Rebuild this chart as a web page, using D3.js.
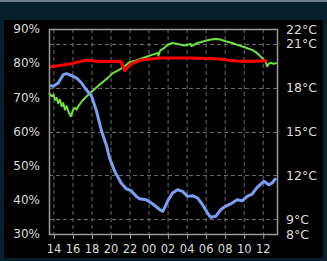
<!DOCTYPE html>
<html>
<head>
<meta charset="utf-8">
<script src="https://cdn.jsdelivr.net/npm/d3@7"></script>
<style>
  html, body { margin: 0; padding: 0; background: #06202e; }
  svg { display: block; font-family: "DejaVu Sans", sans-serif; }
</style>
</head>
<body>
<div id="app"></div>
<script>
// humidity (left axis, %)
const humidityTimes = ["13:32","13:49","13:59","14:10","14:20","14:30","14:41","14:52","15:02","15:13","15:23","15:38","15:50","16:05","16:16","16:26","16:37","17:08","17:40","18:22","19:04","19:43","20:15","20:57","21:29","22:00","22:42","23:24","00:07","00:59","01:02","01:13","01:38","02:00","02:31","03:03","03:44","04:26","04:30","05:09","05:50","06:32","07:04","07:35","08:05","08:47","09:29","10:11","10:32","10:53","11:14","11:35","11:56","12:17","12:28","12:38","12:49","13:10","13:29"];
const humidityValues = [71.3,70.3,70.8,69.3,69.8,68.3,69.3,67.4,68.3,66.4,67.4,65.4,64.5,66.4,66.9,66.4,67.4,69.3,70.8,72.5,74.2,75.7,77.1,78.1,79.1,80.3,80.8,81.5,82.2,83.0,82.2,83.7,84.4,85.4,85.9,85.6,85.2,85.6,85.0,85.9,86.4,86.9,87.1,86.9,86.4,85.9,85.2,84.6,84.2,83.9,83.3,82.5,81.5,80.6,79.1,79.8,80.1,79.8,80.1];

// indoor temperature (right axis, °C)
const indoorTimes = ["13:32","14:41","15:56","17:19","18:22","19:25","21:05","21:29","22:02","23:05","00:08","01:11","04:20","06:26","07:35","08:20","09:35","10:51","12:07","12:26"];
const indoorValues = [19.40,19.51,19.64,19.86,19.81,19.78,19.79,19.15,19.56,19.86,19.95,20.02,20.02,19.98,19.95,19.86,19.79,19.79,19.83,19.81];

// outdoor temperature (right axis, °C)
const outdoorTimes = ["13:32","13:59","14:30","15:02","15:23","15:55","16:26","16:58","17:19","18:01","18:32","19:04","19:33","19:54","20:26","21:07","21:39","22:10","22:42","23:03","23:45","00:27","01:10","01:30","02:00","02:31","03:03","03:34","04:06","04:37","05:09","05:40","06:12","06:32","07:04","07:35","08:05","08:37","09:19","09:50","10:22","10:53","11:25","12:07","12:38","12:59","13:24"];
const outdoorValues = [18.15,18.09,18.31,18.88,18.95,18.81,18.65,18.31,17.97,17.40,16.38,15.01,14.10,13.19,12.28,11.48,11.09,10.96,10.57,10.41,10.34,10.05,9.66,9.55,10.23,10.80,11.02,10.91,10.57,10.61,10.46,10.00,9.43,9.14,9.21,9.66,9.89,10.05,10.34,10.27,10.57,10.73,11.19,11.60,11.36,11.48,11.82];

const percentTicks = [90, 80, 70, 60, 50, 40, 30];
const tempTicks = [22, 21, 18, 15, 12, 9, 8];
const tempGrid = [21, 18, 15, 12, 9];

let width = 327,
    height = 261;

const plot = {left: 49, right: 277, top: 29, bottom: 234};

// "HH:MM" strings in order, day rolls over when the clock goes backwards
const toDates = (times) => {
    let day = 1, prev = -1;
    return times.map(s => {
        const [h, m] = s.split(":").map(Number);
        if (h * 60 + m < prev) day++;
        prev = h * 60 + m;
        return new Date(2024, 0, day, h, m);
    });
};

const svg = d3.select("#app").append("svg")
    .attr("width", width)
    .attr("height", height);

// frame: thin top strip, navy border, black panel
svg.append("rect").attr("width", width).attr("height", height).attr("fill", "#06202e");
svg.append("rect").attr("width", width).attr("height", 2).attr("fill", "#6f7f8c");
svg.append("rect").attr("x", 4).attr("y", 20).attr("width", 319).attr("height", 238).attr("fill", "#000");

const x = d3.scaleTime()
    .domain([new Date(2024, 0, 1, 13, 32), new Date(2024, 0, 2, 13, 30)])
    .range([plot.left, plot.right]);

const yPct = d3.scaleLinear().domain([30, 90]).range([plot.bottom, plot.top]);
const yTemp = d3.scaleLinear().domain([8, 22]).range([plot.bottom, plot.top]);

const hourTicks = x.ticks(d3.timeHour.every(2));

// dashed grid
const grid = svg.append("g")
    .attr("stroke", "#6a6a6a")
    .attr("stroke-dasharray", "4,3");
grid.selectAll(".vg").data(hourTicks).enter().append("line")
    .attr("x1", d => x(d) + 0.5).attr("x2", d => x(d) + 0.5)
    .attr("y1", plot.top).attr("y2", plot.bottom);
grid.selectAll(".hg").data(tempGrid).enter().append("line")
    .attr("x1", plot.left).attr("x2", plot.right)
    .attr("y1", d => Math.round(yTemp(d)) + 0.5).attr("y2", d => Math.round(yTemp(d)) + 0.5);

// x axis
const xAxis = svg.append("g")
    .attr("transform", `translate(0,${plot.bottom})`)
    .call(d3.axisBottom(x).ticks(d3.timeHour.every(2)).tickFormat(d3.timeFormat("%H")).tickSize(5).tickPadding(6));
xAxis.select(".domain").remove();
xAxis.selectAll("line").attr("stroke", "#9a9a9a").attr("transform", "translate(0.5,0)");
xAxis.selectAll("text")
    .attr("fill", "#dcdcdc")
    .attr("font-size", "11.5px")
    .attr("font-family", "DejaVu Sans");

// left axis labels
svg.append("g").selectAll("text").data(percentTicks).enter().append("text")
    .attr("x", 40)
    .attr("y", d => yPct(d))
    .attr("dy", "0.36em")
    .attr("text-anchor", "end")
    .attr("fill", "#dcdcdc")
    .attr("font-size", "12px")
    .text(d => d + "%");

// right axis labels
svg.append("g").selectAll("text").data(tempTicks).enter().append("text")
    .attr("x", 286)
    .attr("y", d => yTemp(d))
    .attr("dy", "0.36em")
    .attr("fill", "#dcdcdc")
    .attr("font-size", "12.5px")
    .text(d => d + "°C");

// lines
const drawLine = (times, values, yScale, color, w) => {
    const dates = toDates(times);
    const line = d3.line()
        .x((d, i) => x(dates[i]))
        .y(d => yScale(d));
    svg.append("path")
        .attr("d", line(values))
        .attr("fill", "none")
        .attr("stroke", color)
        .attr("stroke-width", w)
        .attr("stroke-linejoin", "round");
};

drawLine(humidityTimes, humidityValues, yPct, "#6ee23c", 2);
drawLine(outdoorTimes, outdoorValues, yTemp, "#7c9ef2", 3);
drawLine(indoorTimes, indoorValues, yTemp, "#ff0000", 3);

// plot frame
svg.append("rect")
    .attr("x", plot.left + 0.5).attr("y", plot.top + 0.5)
    .attr("width", plot.right - plot.left).attr("height", plot.bottom - plot.top)
    .attr("fill", "none")
    .attr("stroke", "#9a9a9a")
    .attr("stroke-width", 1.5);
</script>
</body>
</html>
